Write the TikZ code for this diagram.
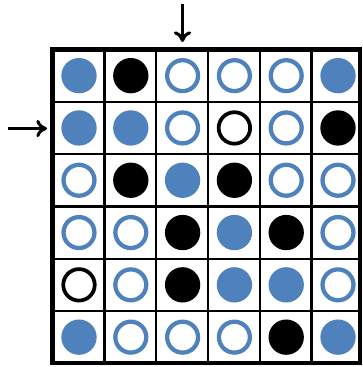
\documentclass[tikz,border=0pt]{standalone}
\usetikzlibrary{arrows.meta}
\definecolor{piece}{RGB}{79,129,189}
\tikzset{
  piecedot/.style={circle, inner sep=0pt, outer sep=0pt, minimum size=26.5pt},
  bluedot/.style={piecedot, fill=piece},
  blackdot/.style={piecedot, fill=black},
  piecering/.style={circle, inner sep=0pt, outer sep=0pt, minimum size=23.2pt, line width=3.2pt},
  bluering/.style={piecering, draw=piece},
  blackring/.style={piecering, draw=black, minimum size=23.6pt, line width=2.8pt},
}
\begin{document}
\begin{tikzpicture}[x=0.75pt,y=-0.75pt,>={Computer Modern Rightarrow[length=8pt,width=13pt]}]
\pgfmathsetmacro{\cw}{51.8};
\pgfmathsetmacro{\ch}{52.3};
\useasboundingbox (0,0) rectangle (363,367);
% board
\foreach \k in {1,...,5} {
  \draw[line width=1.8pt] ({52.5+\k*\cw},49.5) -- ({52.5+\k*\cw},363);
  \draw[line width=1.8pt] (52.5,{49.5+\k*\ch}) -- (360,{49.5+\k*\ch});
}
\draw[line width=3.3pt] (52.5,49.5) rectangle (360,363);
% pieces
\foreach \r/\row in {1/{bluedot,blackdot,bluering,bluering,bluering,bluedot},
                     2/{bluedot,bluedot,bluering,blackring,bluering,blackdot},
                     3/{bluering,blackdot,bluedot,blackdot,bluering,bluering},
                     4/{bluering,bluering,blackdot,bluedot,blackdot,bluering},
                     5/{blackring,bluering,blackdot,bluedot,bluedot,bluering},
                     6/{bluedot,bluering,bluering,bluering,blackdot,bluedot}} {
  \foreach \p [count=\c] in \row
    \node[\p] (p-\r-\c) at ({52.5+(\c-1)*\cw+26.5},{49.5+(\r-0.5)*\ch}) {};
}
% arrows
\coordinate (col-from) at (182.5,4);
\coordinate (col-to) at (182.5,42);
\coordinate (row-from) at (8,128.5);
\coordinate (row-to) at (47,128.5);
\draw[->, line width=2.3pt] (col-from) -- (col-to);
\draw[->, line width=2.3pt] (row-from) -- (row-to);
\end{tikzpicture}
\end{document}
